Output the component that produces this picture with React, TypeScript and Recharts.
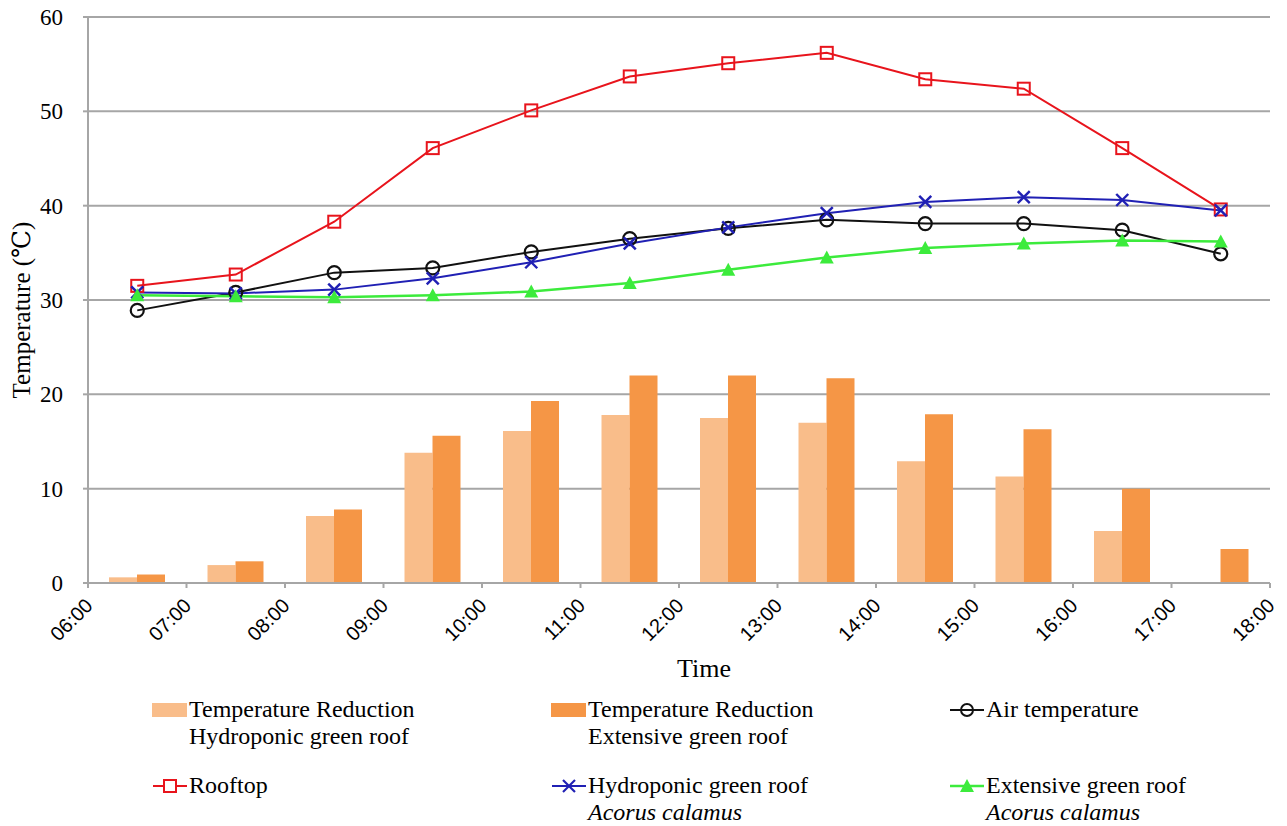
import {
    ComposedChart,
    Bar,
    Line,
    XAxis,
    YAxis,
    CartesianGrid,
} from 'recharts';

// middle of each hour slot (06:30 ... 17:30) as decimal hours
const slots = [6.5, 7.5, 8.5, 9.5, 10.5, 11.5, 12.5, 13.5, 14.5, 15.5, 16.5, 17.5];

const rooftop = [31.5, 32.7, 38.3, 46.1, 50.1, 53.7, 55.1, 56.2, 53.4, 52.4, 46.1, 39.6];
const airTemp = [28.9, 30.8, 32.9, 33.4, 35.1, 36.5, 37.6, 38.5, 38.1, 38.1, 37.4, 34.9];
const hydroRoof = [30.8, 30.7, 31.1, 32.3, 34.0, 36.0, 37.7, 39.2, 40.4, 40.9, 40.6, 39.5];
const extensiveRoof = [30.5, 30.4, 30.3, 30.5, 30.9, 31.8, 33.2, 34.5, 35.5, 36.0, 36.3, 36.2];
const reductionHydro = [0.6, 1.9, 7.1, 13.8, 16.1, 17.8, 17.5, 17.0, 12.9, 11.3, 5.5, 0.1];
const reductionExtensive = [0.9, 2.3, 7.8, 15.6, 19.3, 22.0, 22.0, 21.7, 17.9, 16.3, 10.0, 3.6];

const hourTicks = [6, 7, 8, 9, 10, 11, 12, 13, 14, 15, 16, 17, 18];
const hourLabels = ['06:00', '07:00', '08:00', '09:00', '10:00', '11:00', '12:00', '13:00', '14:00', '15:00', '16:00', '17:00', '18:00'];
const yTicks = [0, 10, 20, 30, 40, 50, 60];

const data = slots.map((hour, i) => ({
    hour,
    rooftop: rooftop[i],
    air: airTemp[i],
    hydro: hydroRoof[i],
    extensive: extensiveRoof[i],
    redHydro: reductionHydro[i],
    redExt: reductionExtensive[i],
}));

const RED = '#E8141C';
const BLUE = '#2020B4';
const GREEN = '#3CEB3C';
const LIGHT = '#F9BD8A';
const DARK = '#F59646';
const GRID = '#A6A6A6';
const serif = '"Liberation Serif", "DejaVu Serif", serif';
const sans = '"Liberation Sans", Arial, sans-serif';

const SquareDot = (p: any) => (
    <rect key={p.index} x={p.cx - 6} y={p.cy - 6} width={12} height={12} fill="none" stroke={RED} strokeWidth={2} />
);
const CircleDot = (p: any) => (
    <circle key={p.index} cx={p.cx} cy={p.cy} r={6.5} fill="none" stroke="#111" strokeWidth={2.2} />
);
const CrossDot = (p: any) => (
    <g key={p.index} stroke={BLUE} strokeWidth={2.4}>
        <line x1={p.cx - 6} y1={p.cy - 6} x2={p.cx + 6} y2={p.cy + 6} />
        <line x1={p.cx - 6} y1={p.cy + 6} x2={p.cx + 6} y2={p.cy - 6} />
    </g>
);
const TriangleDot = (p: any) => (
    <polygon key={p.index} points={`${p.cx},${p.cy - 7} ${p.cx + 7},${p.cy + 6} ${p.cx - 7},${p.cy + 6}`} fill={GREEN} />
);

const HourTick = (p: any) => {
    const idx = hourTicks.indexOf(p.payload.value);
    return (
        <g transform={`translate(${p.x + 1},${p.y + 14}) rotate(-45)`}>
            <text x={0} y={0} dy="0.35em" textAnchor="end" fontFamily={sans} fontSize={20} fill="#000">
                {hourLabels[idx]}
            </text>
        </g>
    );
};

const legendText: React.CSSProperties = {
    fontFamily: serif,
    fontSize: 24,
    lineHeight: '27px',
    color: '#000',
};

function LegendItem({ left, top, icon, lines }: { left: number; top: number; icon: React.ReactNode; lines: React.ReactNode[] }) {
    return (
        <div style={{ position: 'absolute', left, top, display: 'flex', alignItems: 'flex-start' }}>
            <svg width={38} height={27} style={{ flex: 'none' }}>{icon}</svg>
            <div style={legendText}>
                {lines.map((l, i) => (
                    <div key={i}>{l}</div>
                ))}
            </div>
        </div>
    );
}

export default function App() {
    return (
        <div style={{ position: 'fixed', left: 0, top: 0, width: 1287, height: 826, background: '#fff' }}>
            <ComposedChart
                width={1287}
                height={826}
                data={data}
                margin={{ top: 17, right: 17, left: 0, bottom: 143 }}
                barGap={0}
            >
                <CartesianGrid vertical={false} stroke={GRID} strokeWidth={2} />
                <XAxis
                    dataKey="hour"
                    type="number"
                    domain={[6, 18]}
                    ticks={hourTicks}
                    allowDataOverflow
                    height={100}
                    stroke={GRID}
                    strokeWidth={2}
                    tickSize={5}
                    tickMargin={0}
                    tick={<HourTick />}
                    interval={0}
                    label={{
                        content: (p: any) => (
                            <text
                                x={p.viewBox.x + p.viewBox.width / 2 + 25}
                                y={p.viewBox.y + 94}
                                textAnchor="middle"
                                fontFamily={serif}
                                fontSize={26}
                                fill="#000"
                            >
                                Time
                            </text>
                        ),
                    }}
                />
                <YAxis
                    domain={[0, 60]}
                    ticks={yTicks}
                    width={88}
                    stroke={GRID}
                    strokeWidth={2}
                    tickSize={5}
                    tickMargin={20}
                    tick={{ fontFamily: serif, fontSize: 23, fill: '#000' }}
                    label={{
                        content: (p: any) => {
                            const x = p.viewBox.x + 21;
                            const y = p.viewBox.y + p.viewBox.height / 2 + 10;
                            return (
                                <text
                                    x={x}
                                    y={y}
                                    transform={`rotate(-90, ${x}, ${y})`}
                                    textAnchor="middle"
                                    dominantBaseline="central"
                                    fontFamily={serif}
                                    fontSize={25}
                                    fill="#000"
                                >
                                    Temperature (℃)
                                </text>
                            );
                        },
                    }}
                />
                <Bar dataKey="redHydro" fill={LIGHT} barSize={28} isAnimationActive={false} />
                <Bar dataKey="redExt" fill={DARK} barSize={28} isAnimationActive={false} />
                <Line dataKey="air" stroke="#111" strokeWidth={2} dot={CircleDot} activeDot={false} isAnimationActive={false} />
                <Line dataKey="rooftop" stroke={RED} strokeWidth={2} dot={SquareDot} activeDot={false} isAnimationActive={false} />
                <Line dataKey="hydro" stroke={BLUE} strokeWidth={2} dot={CrossDot} activeDot={false} isAnimationActive={false} />
                <Line dataKey="extensive" stroke={GREEN} strokeWidth={2.5} dot={TriangleDot} activeDot={false} isAnimationActive={false} />
            </ComposedChart>

            <LegendItem
                left={151}
                top={696}
                icon={<rect x={1} y={7} width={35} height={14} fill={LIGHT} />}
                lines={['Temperature Reduction', 'Hydroponic green roof']}
            />
            <LegendItem
                left={550}
                top={696}
                icon={<rect x={1} y={7} width={35} height={14} fill={DARK} />}
                lines={['Temperature Reduction', 'Extensive green roof']}
            />
            <LegendItem
                left={948}
                top={696}
                icon={
                    <g>
                        <line x1={2} y1={14} x2={36} y2={14} stroke="#111" strokeWidth={2} />
                        <circle cx={19} cy={14} r={6} fill="none" stroke="#111" strokeWidth={2} />
                    </g>
                }
                lines={['Air temperature']}
            />
            <LegendItem
                left={151}
                top={772}
                icon={
                    <g>
                        <line x1={2} y1={14} x2={36} y2={14} stroke={RED} strokeWidth={2} />
                        <rect x={13} y={8} width={12} height={12} fill="#fff" stroke={RED} strokeWidth={2} />
                    </g>
                }
                lines={['Rooftop']}
            />
            <LegendItem
                left={550}
                top={772}
                icon={
                    <g stroke={BLUE} strokeWidth={2.2}>
                        <line x1={2} y1={14} x2={36} y2={14} />
                        <line x1={13} y1={8} x2={25} y2={20} />
                        <line x1={13} y1={20} x2={25} y2={8} />
                    </g>
                }
                lines={['Hydroponic green roof', <i key="a">Acorus calamus</i>]}
            />
            <LegendItem
                left={948}
                top={772}
                icon={
                    <g>
                        <line x1={2} y1={14} x2={36} y2={14} stroke={GREEN} strokeWidth={2.5} />
                        <polygon points="19,7 26,20 12,20" fill={GREEN} />
                    </g>
                }
                lines={['Extensive green roof', <i key="a">Acorus calamus</i>]}
            />
        </div>
    );
}
